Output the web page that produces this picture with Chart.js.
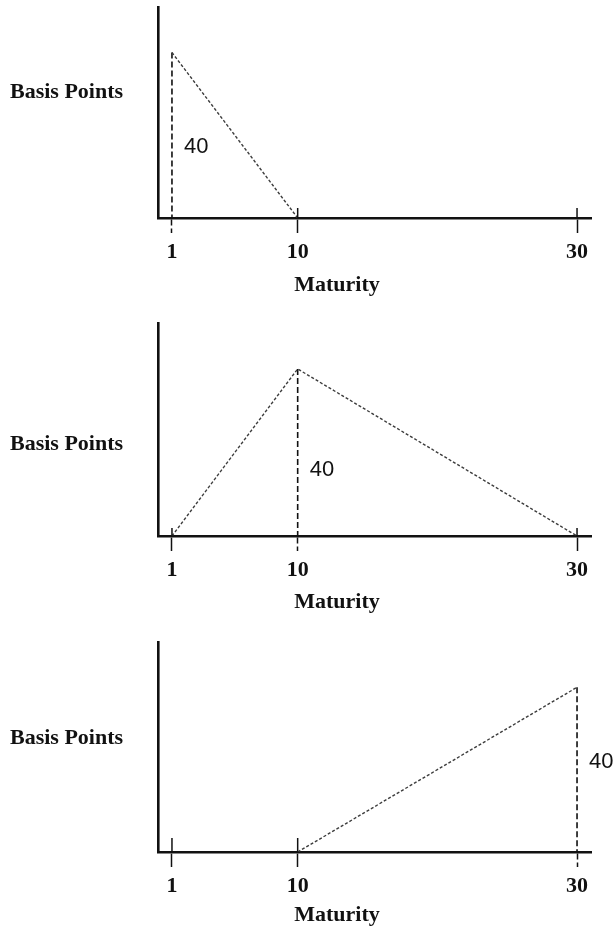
<!DOCTYPE html>
<html>
<head>
<meta charset="utf-8">
<script src="https://cdn.jsdelivr.net/npm/chart.js@4"></script>
<style>
  html, body { margin: 0; padding: 0; background: #fff; overflow: hidden; }
  .panel { position: absolute; left: 0; }
</style>
</head>
<body>
<canvas id="shortEnd" class="panel" width="614" height="298" style="top:0px"></canvas>
<canvas id="belly" class="panel" width="614" height="300" style="top:316px"></canvas>
<canvas id="longEnd" class="panel" width="614" height="297" style="top:635px"></canvas>
<script>
// maturities on the x axis (years) and the shift in bp at each one
const maturities = [1, 10, 30];
const shortEndShift = [40, 0, null];
const bellyShift = [0, 40, 0];
const longEndShift = [null, 0, 40];
const shiftSize = 40;
const xTitle = "Maturity";
const yTitle = "Basis Points";

const serif = { family: "'Liberation Serif', 'DejaVu Serif', serif", size: 22, weight: "bold" };

// tick stubs above the axis, the "40" label, and both axis captions
const annotations = {
  id: "annotations",
  afterDraw(chart, args, opts) {
    const { ctx, chartArea } = chart;
    const x = chart.scales.x;
    ctx.save();
    ctx.strokeStyle = "#111";
    ctx.lineWidth = 1.5;
    maturities.forEach((m) => {
      if (m === opts.peak) return;
      const px = x.getPixelForValue(m);
      ctx.beginPath();
      ctx.moveTo(px, chartArea.bottom);
      ctx.lineTo(px, chartArea.bottom - opts.stub);
      ctx.stroke();
    });

    ctx.fillStyle = "#111";
    ctx.textBaseline = "middle";
    ctx.textAlign = "left";
    ctx.font = "22px 'Liberation Sans', Arial, sans-serif";
    ctx.fillText(String(shiftSize), x.getPixelForValue(opts.peak) + 12, opts.labelY);

    ctx.font = `bold 22px ${serif.family}`;
    ctx.fillText(yTitle, 10, opts.captionY);

    ctx.textAlign = "center";
    ctx.fillText(xTitle, 337, chartArea.bottom + opts.titleGap);
    ctx.restore();
  },
};

const makeChart = (id, values, place) => {
  const peak = maturities[values.indexOf(shiftSize)];
  new Chart(document.getElementById(id), {
    type: "line",
    data: {
      datasets: [
        {
          data: maturities.map((m, i) => ({ x: m, y: values[i] })),
          borderColor: "#3c3c3c",
          borderWidth: 1.4,
          borderDash: [3, 2],
          pointRadius: 0,
          spanGaps: false,
        },
        {
          data: [{ x: peak, y: shiftSize }, { x: peak, y: 0 }],
          borderColor: "#111",
          borderWidth: 1.6,
          borderDash: [6, 3],
          pointRadius: 0,
        },
      ],
    },
    options: {
      responsive: false,
      animation: false,
      layout: { padding: { top: 7, left: 158, right: 23, bottom: 0 } },
      plugins: {
        legend: { display: false },
        tooltip: { enabled: false },
        annotations: { peak: peak, ...place },
      },
      scales: {
        x: {
          type: "linear",
          min: 0,
          max: 31,
          afterBuildTicks: (s) => { s.ticks = maturities.map((v) => ({ value: v })); },
          afterFit: (s) => { s.height = 80; },
          grid: {
            drawOnChartArea: false,
            tickLength: 15,
            tickWidth: 1.5,
            tickColor: "#111",
            tickBorderDash: (c) => (c.tick && c.tick.value === peak ? [6, 3] : []),
          },
          border: { color: "#111", width: 2.6 },
          ticks: { padding: 6, color: "#111", font: serif, maxRotation: 0, autoSkip: false },
          title: { display: false, text: xTitle },
        },
        y: {
          min: 0,
          max: 51,
          afterFit: (s) => { s.width = 0; },
          grid: { display: false },
          ticks: { display: false },
          border: { color: "#111", width: 2.6 },
        },
      },
    },
    plugins: [annotations],
  });
};

document.addEventListener("DOMContentLoaded", () => {
  makeChart("shortEnd", shortEndShift, { stub: 10, labelY: 147, captionY: 92, titleGap: 67 });
  makeChart("belly", bellyShift, { stub: 8, labelY: 154, captionY: 128, titleGap: 66 });
  makeChart("longEnd", longEndShift, { stub: 14, labelY: 127, captionY: 103, titleGap: 63 });
});
</script>
</body>
</html>
